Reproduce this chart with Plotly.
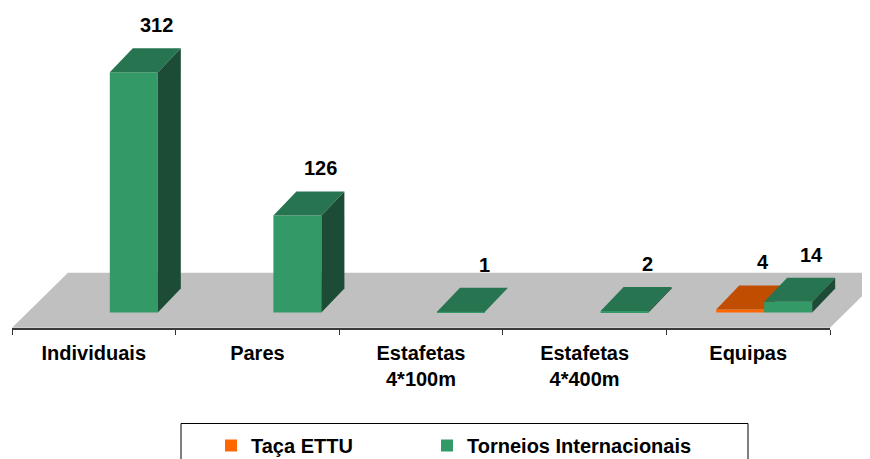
import plotly.graph_objects as go

# ---------------- data ----------------
categories = ["Individuais", "Pares", "Estafetas<br>4*100m", "Estafetas<br>4*400m", "Equipas"]
taca_ettu = [0, 0, 0, 0, 4]
torneios_internacionais = [312, 126, 1, 2, 14]
series_names = ["Taça ETTU", "Torneios Internacionais"]

# ---------------- geometry / style (screen pixels) ----------------
W, H = 870, 459
OFF = 8                 # page body margin
CAT_PX = 163.6          # pixels per category
AXIS_LEFT_PX = 12 - OFF
PLOT_BOTTOM_PX = 329 - OFF
ZERO_PX = 312.5 - OFF
K = 0.77                # pixels per unit
BAR_PX = 48
SHIFT_PX = 16
DX_PX, DY_PX = 23, 24   # bar depth
FLOOR_FRONT_PX = 327.7 - OFF
FLOOR_BACK_PX = 272.7 - OFF
FLOOR_DX_PX = 56

FONT = "Liberation Sans, Arial, sans-serif"

n = len(categories)
x_range = [-0.5 - AXIS_LEFT_PX / CAT_PX, -0.5 + (W - AXIS_LEFT_PX) / CAT_PX]
y_range = [-(PLOT_BOTTOM_PX - ZERO_PX) / K, ZERO_PX / K]
w = BAR_PX / CAT_PX
s = SHIFT_PX / CAT_PX
dxu = DX_PX / CAT_PX
dyu = DY_PX / K


def cy(screen_y):
    """screen y pixel -> container fraction"""
    return 1 - (screen_y - OFF) / H


def cx(screen_x):
    return (screen_x - OFF) / W


series = [
    dict(name=series_names[0], vals=taca_ettu, off=s - w, xa="x", ya="y", legend="legend",
         front="#ff6600", top="#c04d00", side="#8f3a00", lx=211),
    dict(name=series_names[1], vals=torneios_internacionais, off=s, xa="x2", ya="y2", legend="legend2",
         front="#339966", top="#267550", side="#1c4c36", lx=427),
]

fig = go.Figure()
annotations = []

for sr in series:
    fig.add_trace(go.Bar(
        x=list(range(n)), y=sr["vals"], width=w, offset=sr["off"],
        marker=dict(color=sr["front"], line=dict(width=0)),
        name=sr["name"], xaxis=sr["xa"], yaxis=sr["ya"], hoverinfo="skip",
        legend=sr["legend"],
    ))
    for i, v in enumerate(sr["vals"]):
        if v <= 0:
            continue
        xl = i + sr["off"]
        xr = xl + w
        # top face
        fig.add_trace(go.Scatter(
            x=[xl, xl + dxu, xr + dxu, xr, xl], y=[v, v + dyu, v + dyu, v, v],
            mode="lines", line=dict(width=0), fill="toself", fillcolor=sr["top"],
            showlegend=False, hoverinfo="skip", xaxis=sr["xa"], yaxis=sr["ya"],
        ))
        # side face
        fig.add_trace(go.Scatter(
            x=[xr, xr + dxu, xr + dxu, xr, xr], y=[0, dyu, v + dyu, v, 0],
            mode="lines", line=dict(width=0), fill="toself", fillcolor=sr["side"],
            showlegend=False, hoverinfo="skip", xaxis=sr["xa"], yaxis=sr["ya"],
        ))
        annotations.append(dict(
            x=xl + w / 2 + dxu, y=v + dyu, xref="x", yref="y", yshift=23,
            text=str(v), showarrow=False, xanchor="center", yanchor="middle",
            font=dict(family=FONT, size=20, color="black", weight="bold"),
        ))

# floor
yf = (ZERO_PX - FLOOR_FRONT_PX) / K
yb = (ZERO_PX - FLOOR_BACK_PX) / K
fdx = FLOOR_DX_PX / CAT_PX
x0, x1 = -0.5, n - 0.5
shapes = [
    dict(type="path", xref="x", yref="y", layer="below",
         path=f"M{x0},{yf} L{x1},{yf} L{x1 + fdx},{yb} L{x0 + fdx},{yb} Z",
         fillcolor="#c0c0c0", line=dict(width=0)),
    dict(type="line", xref="x", yref="paper", x0=x0, x1=x1, y0=0, y1=0,
         line=dict(color="#3a3a3a", width=2)),
    dict(type="rect", xref="paper", yref="paper",
         x0=cx(181), x1=cx(748),
         y0=(PLOT_BOTTOM_PX - 490) / PLOT_BOTTOM_PX,
         y1=(PLOT_BOTTOM_PX - (423.5 - OFF)) / PLOT_BOTTOM_PX,
         line=dict(color="black", width=1), fillcolor="rgba(0,0,0,0)"),
]

legend_font = dict(family=FONT, size=20, color="black", weight="bold")


def legend_cfg(screen_x):
    return dict(orientation="h", x=cx(screen_x), y=cy(426), xref="container", yref="container",
                xanchor="left", yanchor="top", bgcolor="rgba(0,0,0,0)", borderwidth=0,
                font=legend_font)


axis_common = dict(showgrid=False, zeroline=False, fixedrange=True)
fig.update_layout(
    width=W, height=H,
    margin=dict(l=0, r=0, t=0, b=H - PLOT_BOTTOM_PX, pad=0, autoexpand=False),
    paper_bgcolor="white", plot_bgcolor="white",
    barmode="overlay",
    showlegend=True,
    xaxis=dict(range=x_range, tickmode="array", tickvals=list(range(n)), ticktext=categories,
               ticks="", showline=False, ticklabelstandoff=10,
               tickfont=dict(family=FONT, size=20, color="black", weight="bold"),
               minor=dict(tickmode="array", tickvals=[i - 0.5 for i in range(n + 1)],
                          ticks="outside", ticklen=5, tickcolor="#333", tickwidth=1, showgrid=False),
               **axis_common),
    yaxis=dict(range=y_range, visible=False, **axis_common),
    xaxis2=dict(range=x_range, overlaying="x", visible=False, **axis_common),
    yaxis2=dict(range=y_range, overlaying="y", visible=False, **axis_common),
    legend=legend_cfg(series[0]["lx"]),
    legend2=legend_cfg(series[1]["lx"]),
    shapes=shapes,
    annotations=annotations,
)

fig.write_html("out.html")
